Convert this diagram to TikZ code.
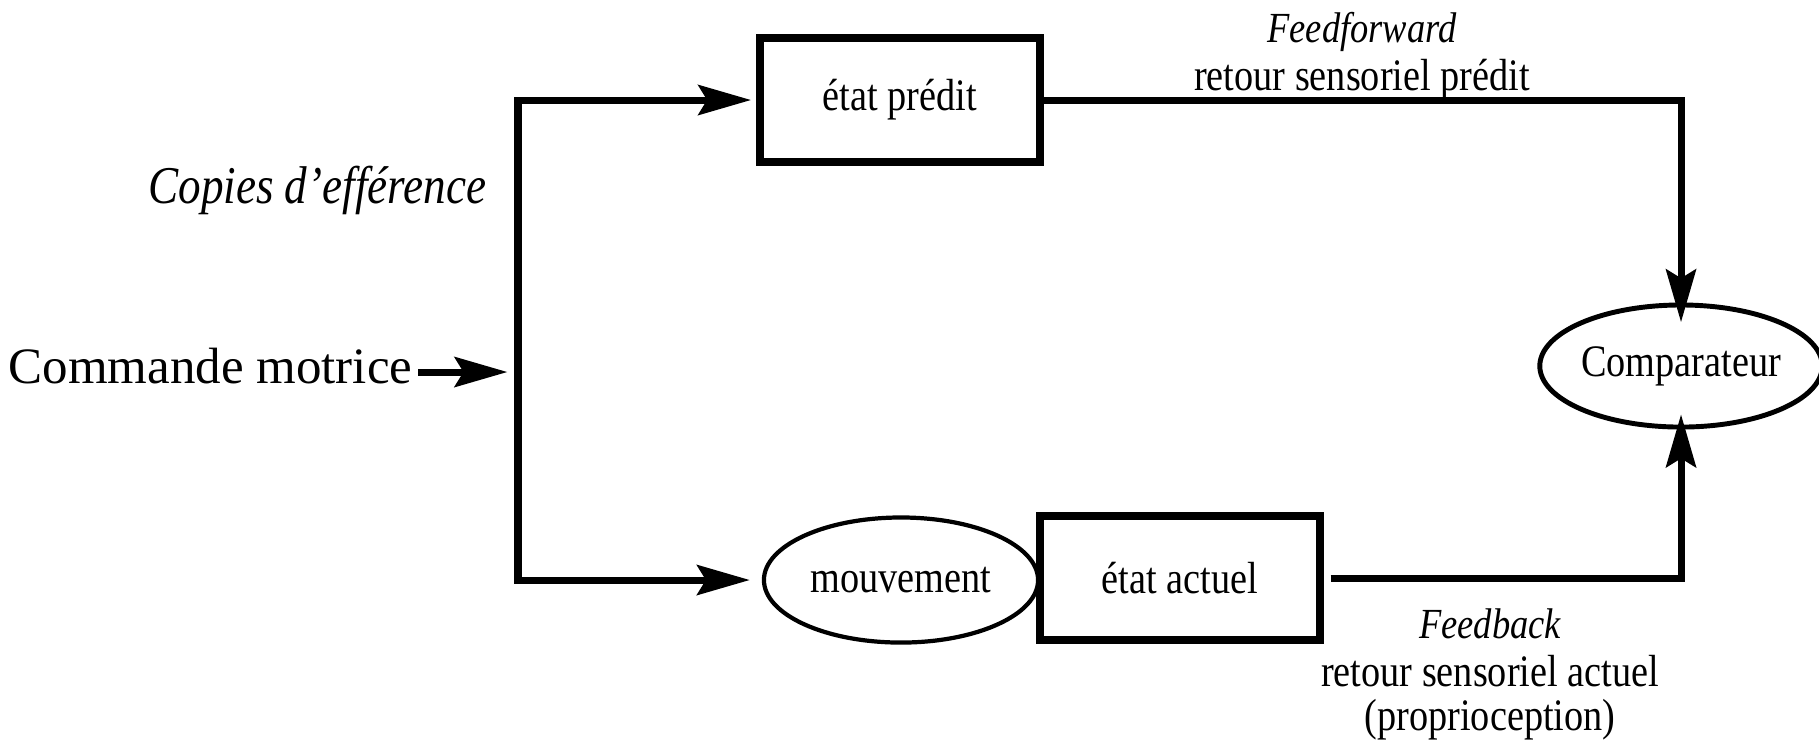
\documentclass[tikz,border=0pt]{standalone}
\usepackage{fontspec}
\setmainfont{Liberation Serif}[FakeStretch=0.85]
\newfontfamily\cmdfont{Liberation Serif}
\usetikzlibrary{arrows.meta,shapes.geometric}
\tikzset{
  conn/.style={line width=2pt},
  arr/.style={-{Stealth[length=15pt,width=8.5pt,inset=2.5pt]}},
  boxnode/.style={draw, line width=2.3pt, minimum width=2.79cm, minimum height=1.24cm, inner sep=0pt,
    font=\fontsize{12.8pt}{15pt}\selectfont},
  ellnode/.style={draw, ellipse, line width=1.2pt, inner sep=0pt, minimum width=2.74cm, minimum height=1.25cm,
    font=\fontsize{12.8pt}{15pt}\selectfont},
  lbl/.style={inner sep=0pt, font=\fontsize{12.8pt}{15pt}\selectfont},
  ilbl/.style={inner sep=0pt, font=\fontsize{12.2pt}{15pt}\selectfont\itshape},
}
\begin{document}
\begin{tikzpicture}[x=0.01cm,y=-0.01cm]
\useasboundingbox (0,0) rectangle (1819,750);
% nodes
\node[inner sep=0pt, anchor=base east, font=\fontsize{14.5pt}{17pt}\selectfont\cmdfont] (cm) at (413,383) {Commande motrice};
\coordinate (J) at (518,372);
\node[boxnode] (ep) at (900,100) {état prédit};
\node[ellnode] (mv) at (901,580) {mouvement};
\node[boxnode] (ea) at (1180,578) {état actuel};
\node[ellnode, line width=1.4pt, minimum width=2.70cm, minimum height=1.22cm] (comp) at (1681,366) {Comparateur};
% labels
\node[inner sep=0pt, anchor=base east, font=\fontsize{15.1pt}{18pt}\selectfont\itshape] (cop) at (487,203) {Copies d’efférence};
\node[ilbl, anchor=base] (ff) at (1362,42) {Feedforward};
\node[lbl, anchor=base] (rsp) at (1362,90) {retour sensoriel prédit};
\node[ilbl, anchor=base] (fb) at (1490,638) {Feedback};
\node[lbl, anchor=base] (rsa) at (1490,686) {retour sensoriel actuel};
\node[lbl, anchor=base] (prop) at (1490,730) {(proprioception)};
% connectors
\draw[conn, arr, shorten <=1.5pt, shorten >=3pt] (cm.east |- J) -- (J);
\draw[conn, {Stealth[length=15pt,width=8.5pt,inset=2.5pt]}-{Stealth[length=15pt,width=8.5pt,inset=2.5pt]},
  shorten <=1.5pt, shorten >=3.4pt] (ep.west) -| (J) |- (mv.west);
\draw[conn, arr, shorten >=-5.6pt] (ep.east) -| (comp.north);
\draw[conn, arr, shorten <=2pt, shorten >=-4.3pt] (ea.east) -| (comp.south);
\end{tikzpicture}
\end{document}
